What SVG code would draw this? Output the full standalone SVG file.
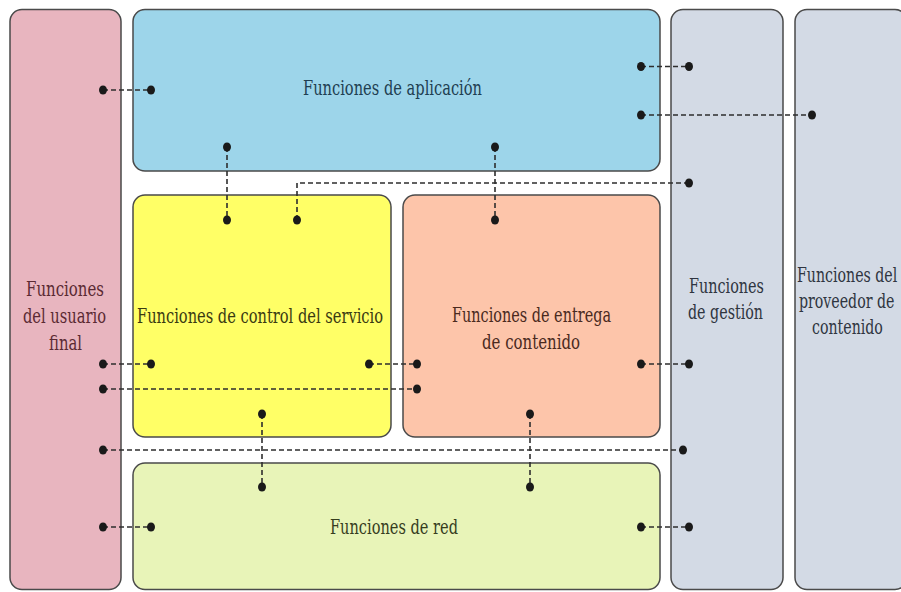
<svg xmlns="http://www.w3.org/2000/svg" width="901" height="592" viewBox="0 0 901 592">
<style>
.box{stroke:#4a4a4a;stroke-width:1.5}
.lbl{font-family:'DejaVu Serif Condensed','DejaVu Serif',serif;font-stretch:condensed;font-size:21px}
.con{fill:none;stroke:#2e2e2e;stroke-width:1.6;stroke-dasharray:5,3}
.dot{fill:#1a1a1a}
</style>
<rect x="0" y="0" width="901" height="592" fill="#ffffff"/>
<g id="usuario">
<rect class="box" x="10" y="9.5" width="111" height="580" rx="12" fill="#e8b5bf"/>
<text class="lbl" fill="#5b2a33"><tspan x="26" y="296" textLength="78" lengthAdjust="spacingAndGlyphs">Funciones</tspan><tspan x="23" y="323" textLength="83" lengthAdjust="spacingAndGlyphs">del usuario</tspan><tspan x="49" y="350" textLength="33" lengthAdjust="spacingAndGlyphs">final</tspan></text>
</g>
<g id="aplicacion">
<rect class="box" x="133" y="9.5" width="527" height="161.5" rx="12" fill="#9dd5ea"/>
<text class="lbl" fill="#1f3f52" x="303" y="95" textLength="179" lengthAdjust="spacingAndGlyphs">Funciones de aplicación</text>
</g>
<g id="control">
<rect class="box" x="133" y="195" width="258" height="242" rx="12" fill="#ffff66"/>
<text class="lbl" fill="#3a3a12" x="137" y="323" textLength="246" lengthAdjust="spacingAndGlyphs">Funciones de control del servicio</text>
</g>
<g id="entrega">
<rect class="box" x="403" y="195" width="257" height="242" rx="12" fill="#fdc5aa"/>
<text class="lbl" fill="#4a2a1e"><tspan x="452" y="322" textLength="159" lengthAdjust="spacingAndGlyphs">Funciones de entrega</tspan><tspan x="482" y="349" textLength="98" lengthAdjust="spacingAndGlyphs">de contenido</tspan></text>
</g>
<g id="red">
<rect class="box" x="133" y="463" width="527" height="126.5" rx="12" fill="#e8f4b8"/>
<text class="lbl" fill="#363d1e" x="330" y="534" textLength="128" lengthAdjust="spacingAndGlyphs">Funciones de red</text>
</g>
<g id="gestion">
<rect class="box" x="671" y="9.5" width="112" height="580" rx="12" fill="#d3dae5"/>
<text class="lbl" fill="#2f3540"><tspan x="689" y="293" textLength="75" lengthAdjust="spacingAndGlyphs">Funciones</tspan><tspan x="688" y="319" textLength="75" lengthAdjust="spacingAndGlyphs">de gestión</tspan></text>
</g>
<g id="proveedor">
<rect class="box" x="795" y="9.5" width="112" height="580" rx="12" fill="#d3dae5"/>
<text class="lbl" fill="#2f3540" transform="translate(797,0) scale(0.75,1)"><tspan x="0" y="282">Funciones del</tspan><tspan x="2.7" y="308">proveedor de</tspan><tspan x="20" y="334">contenido</tspan></text>
</g>
<g id="connectors">
<path class="con" d="M103 90H151"/>
<path class="con" d="M641 66.5H689"/>
<path class="con" d="M641 115H812"/>
<path class="con" d="M227 147V220"/>
<path class="con" d="M297 220V183H689"/>
<path class="con" d="M495 147V220"/>
<path class="con" d="M103 364H151"/>
<path class="con" d="M369 364H417"/>
<path class="con" d="M641 364H689"/>
<path class="con" d="M103 389H417"/>
<path class="con" d="M262 414V487"/>
<path class="con" d="M530 414V487"/>
<path class="con" d="M103 450H683"/>
<path class="con" d="M103 527H151"/>
<path class="con" d="M641 527H689"/>
<g class="dot">
<ellipse cx="103" cy="90" rx="4" ry="4.5"/><ellipse cx="151" cy="90" rx="4" ry="4.5"/>
<ellipse cx="641" cy="66.5" rx="4" ry="4.5"/><ellipse cx="689" cy="66.5" rx="4" ry="4.5"/>
<ellipse cx="641" cy="115" rx="4" ry="4.5"/><ellipse cx="812" cy="115" rx="4" ry="4.5"/>
<ellipse cx="227" cy="147" rx="4" ry="4.5"/><ellipse cx="227" cy="220" rx="4" ry="4.5"/>
<ellipse cx="297" cy="220" rx="4" ry="4.5"/><ellipse cx="689" cy="183" rx="4" ry="4.5"/>
<ellipse cx="495" cy="147" rx="4" ry="4.5"/><ellipse cx="495" cy="220" rx="4" ry="4.5"/>
<ellipse cx="103" cy="364" rx="4" ry="4.5"/><ellipse cx="151" cy="364" rx="4" ry="4.5"/>
<ellipse cx="369" cy="364" rx="4" ry="4.5"/><ellipse cx="417" cy="364" rx="4" ry="4.5"/>
<ellipse cx="641" cy="364" rx="4" ry="4.5"/><ellipse cx="689" cy="364" rx="4" ry="4.5"/>
<ellipse cx="103" cy="389" rx="4" ry="4.5"/><ellipse cx="417" cy="389" rx="4" ry="4.5"/>
<ellipse cx="262" cy="414" rx="4" ry="4.5"/><ellipse cx="262" cy="487" rx="4" ry="4.5"/>
<ellipse cx="530" cy="414" rx="4" ry="4.5"/><ellipse cx="530" cy="487" rx="4" ry="4.5"/>
<ellipse cx="103" cy="450" rx="4" ry="4.5"/><ellipse cx="683" cy="450" rx="4" ry="4.5"/>
<ellipse cx="103" cy="527" rx="4" ry="4.5"/><ellipse cx="151" cy="527" rx="4" ry="4.5"/>
<ellipse cx="641" cy="527" rx="4" ry="4.5"/><ellipse cx="689" cy="527" rx="4" ry="4.5"/>
</g>
</g>
</svg>
